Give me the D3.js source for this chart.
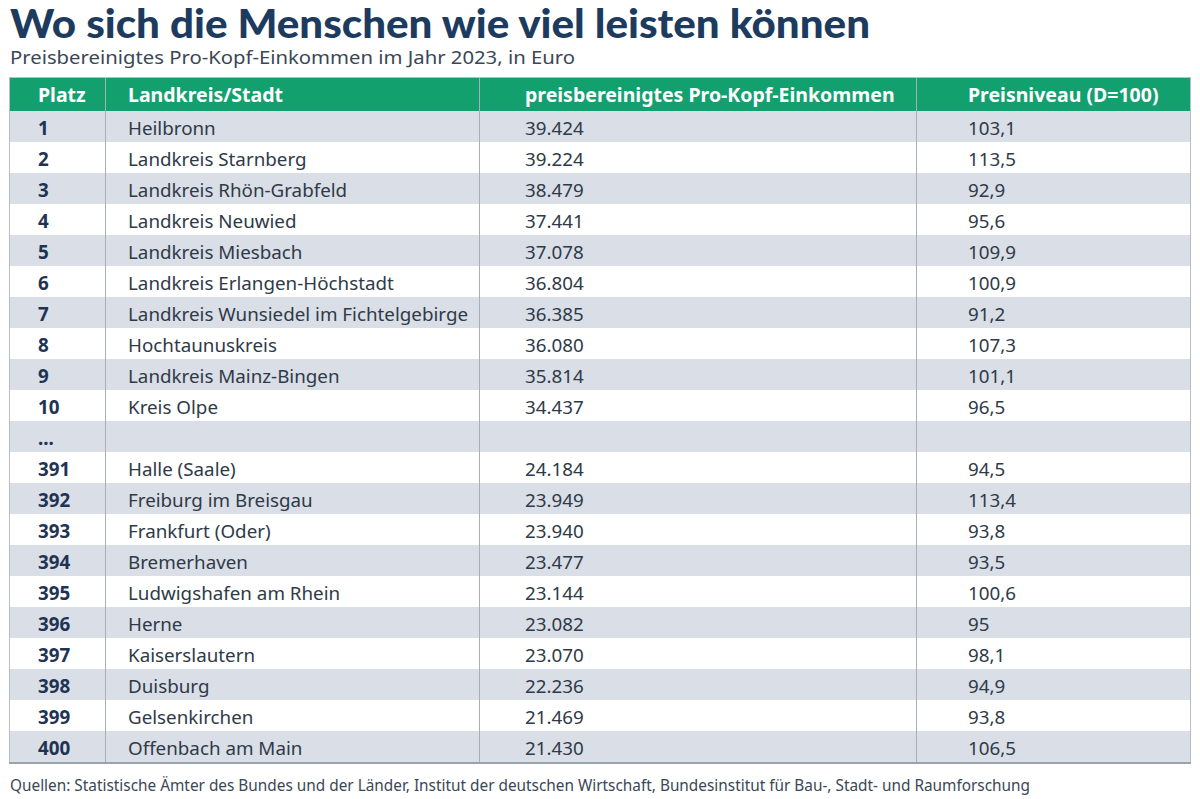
<!DOCTYPE html>
<html>
<head>
<meta charset="utf-8">
<script src="https://cdn.jsdelivr.net/npm/d3@7"></script>
<style>
  body { margin: 0; background: #fff; }
  svg { display: block; font-family: "Noto Sans", Lato, sans-serif; }
</style>
</head>
<body>
<div class="container"></div>
<script>
const title = "Wo sich die Menschen wie viel leisten können"
const subtitle = "Preisbereinigtes Pro-Kopf-Einkommen im Jahr 2023, in Euro"
const source = "Quellen: Statistische Ämter des Bundes und der Länder, Institut der deutschen Wirtschaft, Bundesinstitut für Bau-, Stadt- und Raumforschung"

const headers = ["Platz", "Landkreis/Stadt", "preisbereinigtes Pro-Kopf-Einkommen", "Preisniveau (D=100)"]

const ranks = ["1", "2", "3", "4", "5", "6", "7", "8", "9", "10", "...",
  "391", "392", "393", "394", "395", "396", "397", "398", "399", "400"]
const regions = ["Heilbronn", "Landkreis Starnberg", "Landkreis Rhön-Grabfeld", "Landkreis Neuwied",
  "Landkreis Miesbach", "Landkreis Erlangen-Höchstadt", "Landkreis Wunsiedel im Fichtelgebirge",
  "Hochtaunuskreis", "Landkreis Mainz-Bingen", "Kreis Olpe", "",
  "Halle (Saale)", "Freiburg im Breisgau", "Frankfurt (Oder)", "Bremerhaven", "Ludwigshafen am Rhein",
  "Herne", "Kaiserslautern", "Duisburg", "Gelsenkirchen", "Offenbach am Main"]
const incomes = [39424, 39224, 38479, 37441, 37078, 36804, 36385, 36080, 35814, 34437, null,
  24184, 23949, 23940, 23477, 23144, 23082, 23070, 22236, 21469, 21430]
const priceLevels = [103.1, 113.5, 92.9, 95.6, 109.9, 100.9, 91.2, 107.3, 101.1, 96.5, null,
  94.5, 113.4, 93.8, 93.5, 100.6, 95, 98.1, 94.9, 93.8, 106.5]

const w = 1200
const h = 799
const colEdges = [9, 105, 479, 916, 1191]
const textPad = [29, 23, 46, 52]
const headTop = 77
const headBottom = 111
const tableBottom = 762

const de = d3.formatLocale({ decimal: ",", thousands: ".", grouping: [3], currency: ["", " €"] })
const fmtIncome = de.format(",d")
const fmtPrice = (v) => Number.isInteger(v) ? String(v) : de.format(".1f")(v)

const rows = ranks.map((r, i) => ({
  rank: r,
  region: regions[i],
  income: incomes[i],
  price: priceLevels[i]
}))

const svg = d3.select(".container")
  .append("svg")
  .attr("width", w)
  .attr("height", h)

const yScale = d3.scaleBand()
  .domain(d3.range(rows.length))
  .range([headBottom, tableBottom])

// title
svg.append("text")
  .attr("x", 10)
  .attr("y", 38)
  .attr("fill", "#1d3b5f")
  .attr("font-family", "Lato, sans-serif")
  .attr("font-size", 39)
  .attr("font-weight", 900)
  .attr("textLength", 860)
  .attr("lengthAdjust", "spacingAndGlyphs")
  .text(title)

svg.append("text")
  .attr("x", 10)
  .attr("y", 64)
  .attr("fill", "#3a4756")
  .attr("font-size", 18)
  .attr("textLength", 565)
  .attr("lengthAdjust", "spacingAndGlyphs")
  .text(subtitle)

// header
svg.append("rect")
  .attr("x", colEdges[0])
  .attr("y", headTop)
  .attr("width", colEdges[4] - colEdges[0])
  .attr("height", headBottom - headTop)
  .attr("fill", "#13a06f")

svg.selectAll(".head")
  .data(headers)
  .enter()
  .append("text")
  .attr("class", "head")
  .attr("x", (d, i) => colEdges[i] + textPad[i])
  .attr("y", headTop + 25)
  .attr("fill", "#fff")
  .attr("font-size", 19.5)
  .attr("font-weight", 700)
  .text((d) => d)

// rows
svg.selectAll(".stripe")
  .data(rows)
  .enter()
  .append("rect")
  .attr("class", "stripe")
  .attr("x", colEdges[0])
  .attr("y", (d, i) => yScale(i))
  .attr("width", colEdges[4] - colEdges[0])
  .attr("height", yScale.bandwidth())
  .attr("fill", (d, i) => i % 2 === 0 ? "#d9dee7" : "#ffffff")

const rowG = svg.selectAll(".row")
  .data(rows)
  .enter()
  .append("g")
  .attr("class", "row")
  .attr("transform", (d, i) => "translate(0," + (yScale(i) + yScale.bandwidth() / 2 + 8) + ")")
  .attr("font-size", 18.8)

rowG.append("text")
  .attr("x", colEdges[0] + textPad[0])
  .attr("fill", "#1f3352")
  .attr("font-weight", 700)
  .text((d) => d.rank)

rowG.append("text")
  .attr("x", colEdges[1] + textPad[1])
  .attr("fill", "#2f3a48")
  .text((d) => d.region)

rowG.append("text")
  .attr("x", colEdges[2] + textPad[2])
  .attr("fill", "#2f3a48")
  .text((d) => d.income == null ? "" : fmtIncome(d.income))

rowG.append("text")
  .attr("x", colEdges[3] + textPad[3])
  .attr("fill", "#2f3a48")
  .text((d) => d.price == null ? "" : fmtPrice(d.price))

// column separators
svg.selectAll(".sep")
  .data(colEdges.slice(1, 4))
  .enter()
  .append("line")
  .attr("class", "sep")
  .attr("x1", (d) => d + 0.5)
  .attr("x2", (d) => d + 0.5)
  .attr("y1", headTop)
  .attr("y2", tableBottom)
  .attr("stroke", "#a7afb9")
  .attr("stroke-width", 1)

// outer frame
svg.append("rect")
  .attr("x", colEdges[0] + 0.5)
  .attr("y", headTop + 0.5)
  .attr("width", colEdges[4] - colEdges[0] - 1)
  .attr("height", tableBottom - headTop)
  .attr("fill", "none")
  .attr("stroke", "#b7bdc5")
  .attr("stroke-width", 1)

svg.append("line")
  .attr("x1", colEdges[0])
  .attr("x2", colEdges[4])
  .attr("y1", tableBottom + 1)
  .attr("y2", tableBottom + 1)
  .attr("stroke", "#9aa2ac")
  .attr("stroke-width", 2)

svg.append("text")
  .attr("x", 10)
  .attr("y", 791)
  .attr("fill", "#3a4756")
  .attr("font-size", 15.5)
  .attr("textLength", 1020)
  .attr("lengthAdjust", "spacingAndGlyphs")
  .text(source)
</script>
</body>
</html>
